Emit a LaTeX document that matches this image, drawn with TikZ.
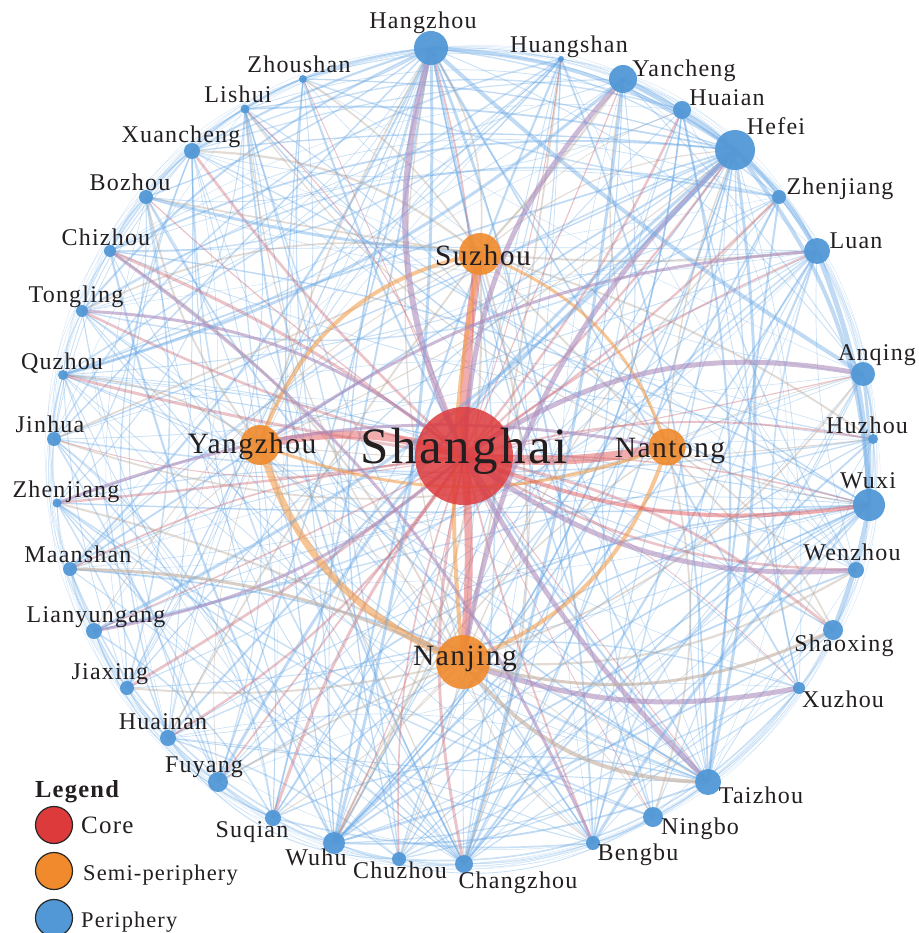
\documentclass[tikz,border=0pt]{standalone}
\usepackage{fontspec}
\setmainfont{Liberation Serif}[LetterSpace=5]
\definecolor{nblue}{RGB}{82,152,214}
\definecolor{eblue}{RGB}{105,168,228}
\definecolor{nor}{RGB}{240,138,44}
\definecolor{nred}{RGB}{221,58,60}
\definecolor{ered}{RGB}{228,92,92}
\definecolor{eor}{RGB}{243,160,80}
\definecolor{epur}{RGB}{172,140,188}
\definecolor{egry}{RGB}{196,178,165}
\definecolor{txt}{RGB}{35,31,32}
\begin{document}
\begin{tikzpicture}[x=1pt,y=-1pt,
  bedge/.style={draw=eblue,draw opacity=0.42},
  redge/.style={draw=ered,draw opacity=0.5},
  oedge/.style={draw=eor,draw opacity=0.6},
  pedge/.style={draw=epur,draw opacity=0.6},
  gedge/.style={draw=egry,draw opacity=0.65},
  mixedge/.style={draw=eor!55!eblue,draw opacity=0.38},
  spoke/.style={draw=ered!80!eblue,draw opacity=0.4},
  pnode/.style={circle,inner sep=0pt,fill=nblue,fill opacity=0.95},
  snode/.style={circle,inner sep=0pt,fill=nor,fill opacity=0.9},
  cnode/.style={circle,inner sep=0pt,fill=nred,fill opacity=0.85},
  lab/.style={text=txt,inner sep=0pt,anchor=base,font=\fontsize{24}{26}\selectfont},
  blab/.style={lab,font=\fontsize{29.5}{32}\selectfont},
  legcirc/.style={circle,draw=black!85,line width=1.2pt,minimum size=37pt,inner sep=0pt},
]
\useasboundingbox (0,0) rectangle (918,933);

% ---- coordinates of cities
\foreach \n/\x/\y in {p1/431/48, p2/561/59, p3/623/79, p4/682/110, p5/735/150,
  p6/779/197, p7/817/251, p8/863/374, p9/873/439, p10/869/505, p11/856/570,
  p12/833/630, p13/799/688, p14/708/782, p15/653/817, p16/593/843, p17/464/864,
  p18/399/859, p19/334/843, p20/273/818, p21/218/782, p22/168/738, p23/127/688,
  p24/94/631, p25/70/569, p26/57/503, p27/54/439, p28/63/375, p29/82/311,
  p30/110/251, p31/146/197, p32/192/151, p33/245/109, p34/303/79,
  s1/464/456, s2/480/254, s3/260/445, s4/667/447, s5/463/662}
  \coordinate (\n) at (\x,\y);

% ---- outer ring arcs between neighbours
\foreach \i in {1,...,34}{
  \foreach \d in {1,2,3,4}{
    \pgfmathtruncatemacro{\j}{mod(\i+\d-1,34)+1}
    \pgfmathtruncatemacro{\bb}{6*\d}
    \draw[bedge,line width=0.5,draw opacity=0.25] (p\i) to[bend left=\bb] (p\j);
  }
}

% ---- random thin links among periphery
\pgfmathsetseed{4321}
\foreach \k in {1,...,165}{
  \pgfmathrandominteger{\ra}{1}{34}
  \pgfmathrandominteger{\off}{4}{30}
  \pgfmathtruncatemacro{\rb}{mod(\ra+\off-1,34)+1}
  \pgfmathrandominteger{\bd}{-28}{28}
  \pgfmathsetmacro{\lw}{0.4+1.3*rnd}
  \draw[bedge,line width=\lw,draw opacity=0.36] (p\ra) to[bend left=\bd] (p\rb);
}

% ---- hubs among periphery
\foreach \h/\l in {p1/{10,13,14,15,16,17,18,20,21,23,25,27,29,31,32,33},
  p5/{18,19,20,22,23,25,27,28,30,32,33,34},
  p10/{18,19,20,21,22,24,26,28,30,33},
  p14/{2,4,6,19,20,22,25,28,31,34},
  p19/{2,4,6,7,9,11,12,30,32,34},
  p17/{3,5,7,9,27,29,31,33}}{
  \foreach \t in \l {
    \pgfmathrandominteger{\bd}{-20}{20}
    \pgfmathsetmacro{\lw}{0.7+1.5*rnd}
    \draw[bedge,line width=\lw] (\h) to[bend left=\bd] (p\t);
  }
}

% ---- semi-periphery spokes
\foreach \h/\l in {s2/{1,3,4,5,7,9,12,17,19,22,24,27,29,31,32,34},
  s5/{1,2,6,8,11,15,16,18,19,20,21,23,26,30,33},
  s3/{1,5,9,14,17,21,25,28,31},
  s4/{3,5,8,10,12,15,19,27,33}}{
  \foreach \t in \l {
    \pgfmathrandominteger{\bd}{-18}{18}
    \pgfmathsetmacro{\lw}{0.7+1.6*rnd}
    \draw[mixedge,line width=\lw] (\h) to[bend left=\bd] (p\t);
  }
}

% ---- core spokes
\foreach \i in {1,...,34}{
  \pgfmathrandominteger{\bd}{-15}{15}
  \pgfmathsetmacro{\lw}{0.8+2.4*rnd}
  \draw[spoke,line width=\lw] (s1) to[bend left=\bd] (p\i);
}

% ---- strong links
\foreach \a/\b/\st/\w/\bd in {
  s1/s2/redge/9/5, s3/s1/redge/8/15, s1/s4/redge/9/-8, s1/s5/redge/8/5,
  s3/s5/oedge/7/-25, s3/s2/oedge/4/30, s2/s4/oedge/3/25, s4/s5/oedge/4/25,
  s2/s5/oedge/4/-8, s3/s4/oedge/3/-20,
  p1/s1/pedge/6/-20, p3/s1/pedge/5/-20, p5/s5/pedge/5/-18, p8/s1/pedge/5/-22,
  p10/s1/redge/4/15, p11/s1/pedge/5/20, p14/s1/pedge/5/8, s5/p14/gedge/4/-25,
  s5/p13/pedge/5/-15, s5/p12/gedge/3/-20, p29/s1/pedge/3/18, p24/s1/pedge/3/-15,
  p26/s4/pedge/3/15, p25/s5/gedge/3/12, p7/s3/pedge/3/-15, p31/s2/bedge/3/-5,
  p1/p5/bedge/4/15, p3/p5/bedge/5/5, p5/p7/bedge/5/10, p7/p10/bedge/5/10,
  p5/p10/bedge/4/18, p8/p10/bedge/3/5, p10/p12/bedge/4/5, p1/p8/bedge/4/-5,
  p1/p19/bedge/3/8, p3/p17/bedge/3/5, p5/p24/bedge/3/10, p5/p21/bedge/3/-10,
  p10/p16/bedge/3/-8, p14/p5/bedge/3/-10, p30/p16/pedge/3/15, p28/p3/bedge/3/-12}
  \draw[\st,line width=\w] (\a) to[bend left=\bd] (\b);

% ---- city nodes
\foreach \i/\r in {1/17, 2/3, 3/14, 4/9, 5/20, 6/7, 7/13, 8/12, 9/5, 10/16,
  11/8, 12/10, 13/6, 14/13, 15/10, 16/7, 17/9, 18/7, 19/11, 20/8, 21/10,
  22/8, 23/7, 24/8, 25/7, 26/4.5, 27/7, 28/5, 29/6, 30/6, 31/7, 32/8, 33/4.5, 34/4}
  \node[pnode,minimum size={2*\r pt}] (n\i) at (p\i) {};
\node[snode,minimum size=42pt] (nSZ) at (s2) {};
\node[snode,minimum size=40pt] (nYZ) at (s3) {};
\node[snode,minimum size=37pt] (nNT) at (s4) {};
\node[snode,minimum size=54pt] (nNJ) at (s5) {};
\node[cnode,minimum size=98pt] (nSH) at (s1) {};

% ---- labels
\foreach \n/\x/\y/\t in {l1/423/29/Hangzhou, l2/569/53/Huangshan, l3/684/77/Yancheng,
  l4/727/106/Huaian, l5/776/135/Hefei, l6/840/195/Zhenjiang, l7/856/248/Luan,
  l8/877/360/Anqing, l9/867/433/Huzhou, l10/868/488/Wuxi, l11/852/560/Wenzhou,
  l12/844/651/Shaoxing, l13/843/707/Xuzhou, l14/761/803/Taizhou, l15/700/834/Ningbo,
  l16/638/860/Bengbu, l17/518/888/Changzhou, l18/400/878/Chuzhou, l19/316/865/Wuhu,
  l20/252/837/Suqian, l21/204/772/Fuyang, l22/163/729/Huainan, l23/110/679/Jiaxing,
  l24/96/622/Lianyungang, l25/78/562/Maanshan, l26/66/497/Zhenjiang, l27/50/432/Jinhua,
  l28/62/369/Quzhou, l29/76/302/Tongling, l30/106/245/Chizhou, l31/130/191/Bozhou,
  l32/181/143/Xuancheng, l33/238/103/Lishui, l34/299/73/Zhoushan}
  \node[lab] (\n) at (\x,\y) {\t};
\node[blab] (lSZ) at (483,265) {Suzhou};
\node[blab] (lYZ) at (252,453) {Yangzhou};
\node[blab] (lNT) at (670,457) {Nantong};
\node[blab] (lNJ) at (465,665) {Nanjing};
\node[lab,font=\fontsize{51}{54}\selectfont] (lSH) at (464,463) {Shanghai};

% ---- legend
\node[lab,anchor=base west,font=\bfseries\fontsize{24.5}{27}\selectfont] (leg) at (35,797) {Legend};
\node[legcirc,fill=nred] (lc1) at (54,825) {};
\node[legcirc,fill=nor] (lc2) at (54,871) {};
\node[legcirc,fill=nblue] (lc3) at (54,918) {};
\node[lab,anchor=base west,font=\fontsize{25}{27}\selectfont] (lt1) at (81,833) {Core};
\node[lab,anchor=base west,font=\fontsize{22.5}{24}\selectfont] (lt2) at (83,880) {Semi-periphery};
\node[lab,anchor=base west,font=\fontsize{22.4}{24}\selectfont] (lt3) at (81,927) {Periphery};
\end{tikzpicture}
\end{document}
